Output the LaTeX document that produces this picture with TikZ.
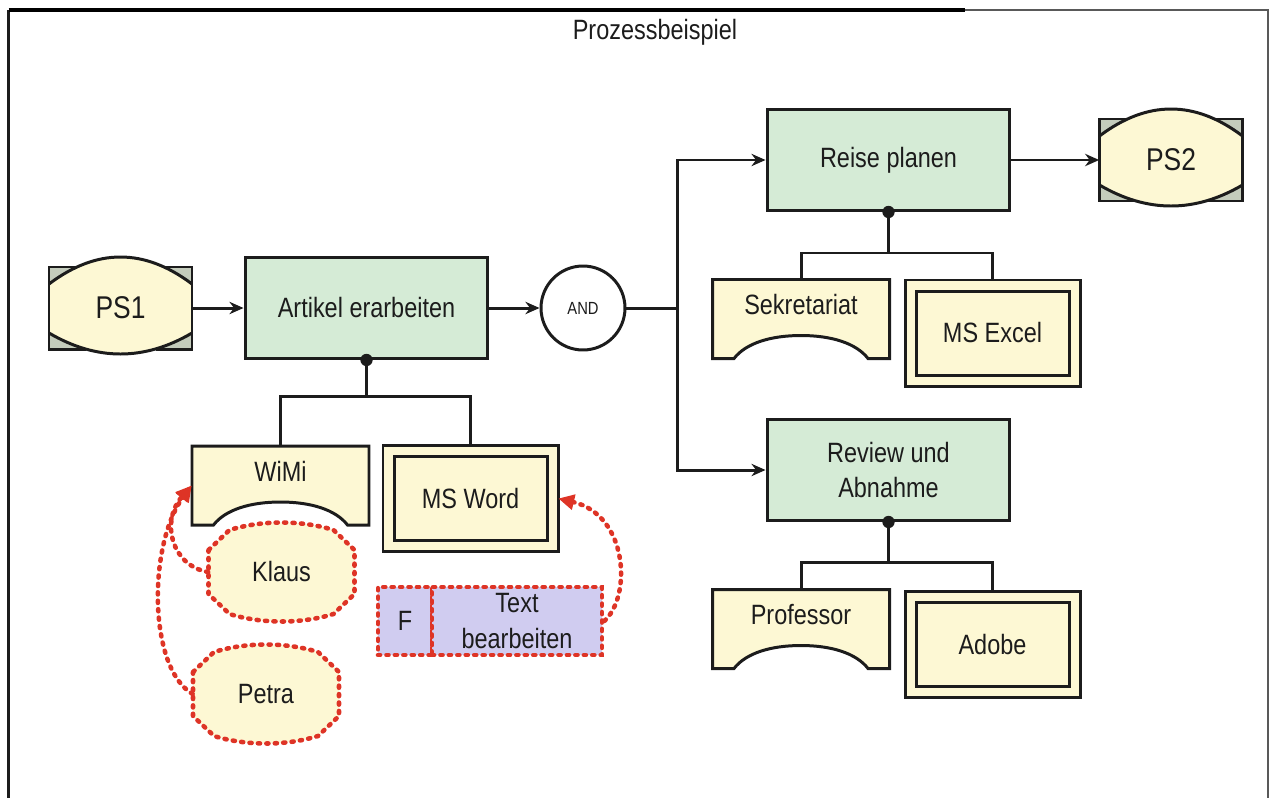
\documentclass[tikz,border=0pt]{standalone}
\usepackage{fontspec}
\setmainfont{Liberation Sans}[FakeStretch=0.84]
\usetikzlibrary{arrows.meta}

\definecolor{cream}{RGB}{253,248,212}
\definecolor{fngreen}{RGB}{213,235,214}
\definecolor{cornerfill}{RGB}{196,204,188}
\definecolor{lav}{RGB}{208,204,240}
\definecolor{dotred}{RGB}{222,52,38}
\definecolor{ink}{RGB}{28,28,28}

\tikzset{
  line/.style={draw=ink, line width=1.7pt},
  flow/.style={draw=ink, line width=1.7pt, -{Stealth[length=8pt,width=7pt]}},
  lbl/.style={font=\fontsize{15.9pt}{20.4pt}\selectfont, text=ink, align=center, inner sep=0pt},
  fnbox/.style={lbl, draw=ink, line width=1.7pt, fill=fngreen,
    minimum width=4.86cm, minimum height=2.02cm},
  dotline/.style={draw=dotred, line width=2.6pt, dash pattern=on 1.2pt off 3.6pt, line cap=round},
  redarrow/.style={dotline, -{Triangle[length=9pt,width=8.5pt,fill=dotred]}},
  fbox/.style={lbl, dotline, fill=lav, minimum height=1.36cm},
  jdot/.style={fill=ink},
  % start / end event: curved top and bottom over a framed rectangle
  pstrig/.pic={
    \fill[cornerfill] (-71.5,-41) rectangle (71.5,41);
    \fill[cream] (-71.5,-24) .. controls (-23.8,-60) and (23.8,-60) .. (71.5,-24) -- (71.5,25)
      .. controls (23.8,53) and (-23.8,53) .. (-71.5,25) -- cycle;
    \draw[line] (-71.5,-24) .. controls (-23.8,-60) and (23.8,-60) .. (71.5,-24);
    \draw[line] (-71.5,25) .. controls (-23.8,53) and (23.8,53) .. (71.5,25);
    \draw[line] (-43.6,-41) -- (-71.5,-41) -- (-71.5,41) -- (-35,41);
    \draw[line] (43.6,-41) -- (71.5,-41) -- (71.5,41) -- (35,41);
    \node[lbl, font=\fontsize{17.9pt}{20pt}\selectfont,
      minimum width=2.86cm, minimum height=1.64cm] (-box) at (0,0) {#1};
  },
  % organisational unit
  orgunit/.pic={
    \filldraw[line, fill=cream] (-88.5,-39.5) -- (88.5,-39.5) -- (88.5,39.5) -- (67,39.5)
      .. controls (55,24) and (30,16.5) .. (0,16.5)
      .. controls (-30,16.5) and (-55,24) .. (-67,39.5) -- (-88.5,39.5) -- cycle;
    \node[minimum width=3.54cm, minimum height=1.58cm, inner sep=0pt] (-box) at (0,0) {};
    \node[lbl] (-t) at (0,-14) {#1};
  },
  % application system
  appsys/.pic={
    \filldraw[line, fill=cream] (-87.5,-53) rectangle (87.5,53);
    \draw[line] (-76.5,-42) rectangle (76.5,42);
    \node[lbl, minimum width=3.5cm, minimum height=2.12cm] (-box) at (0,0) {#1};
  },
  % person
  person/.pic={
    \filldraw[dotline, fill=cream] (-73,-22) -- (-52,-42) .. controls (-20,-52) and (20,-52) .. (52,-42)
      -- (73,-22) -- (73,22) -- (52,42) .. controls (20,52) and (-20,52) .. (-52,42)
      -- (-73,22) -- cycle;
    \node[lbl, minimum width=2.92cm, minimum height=2cm] (-box) at (0,0) {#1};
  },
}

\begin{document}
\begin{tikzpicture}[x=0.02cm, y=-0.02cm]
\useasboundingbox (0,0) rectangle (1270,798);

% frame
\draw[line width=2pt, ink] (8.5,10) -- (8.5,798);
\draw[line width=2.3pt, black] (8.5,10) -- (965,10);
\draw[line width=1.2pt, gray!70!black] (965,10) -- (1268,10) -- (1268,798);

\node[lbl] (title) at (655,32) {Prozessbeispiel};

% main flow
\pic (ps1) at (120.5,308) {pstrig=PS1};
\node[fnbox] (art) at (366.5,308) {Artikel erarbeiten};
\node[circle, draw=ink, line width=1.7pt, fill=white, minimum size=1.68cm, inner sep=0pt,
  font=\fontsize{10pt}{12pt}\selectfont, text=ink] (and) at (583,308) {AND};
\coordinate (split) at (677,308);
\node[fnbox] (reise) at (888.5,160) {Reise planen};
\node[fnbox] (review) at (888.5,470) {Review und\\Abnahme};
\pic (ps2) at (1171,160) {pstrig=PS2};

\draw[flow] (ps1-box.east) -- (art.west);
\draw[flow] (art.east) -- (and.west);
\draw[line] (and.east) -- (split);
\draw[flow] (split) |- (reise.west);
\draw[flow] (split) |- (review.west);
\draw[flow] (reise.east) -- (ps2-box.west);

% resources of "Artikel erarbeiten"
\pic (wimi) at (280.5,485.5) {orgunit=WiMi};
\pic (word) at (470.5,498.5) {appsys=MS Word};
\draw[line] (art.south) -- (art.south |- 0,396);
\draw[line] (wimi-box.north) |- (word-box.north |- 0,396) -- (word-box.north);
\fill[jdot] (art.south) circle (3.5pt);

% resources of "Reise planen"
\pic (sek) at (801,319) {orgunit=Sekretariat};
\pic (excel) at (992.5,333) {appsys=MS Excel};
\draw[line] (reise.south) -- (reise.south |- 0,253);
\draw[line] (sek-box.north) |- (excel-box.north |- 0,253) -- (excel-box.north);
\fill[jdot] (reise.south) circle (3.5pt);

% resources of "Review und Abnahme"
\pic (prof) at (801,629) {orgunit=Professor};
\pic (adobe) at (992.5,644.5) {appsys=Adobe};
\draw[line] (review.south) -- (review.south |- 0,562);
\draw[line] (prof-box.north) |- (adobe-box.north |- 0,562) -- (adobe-box.north);
\fill[jdot] (review.south) circle (3.5pt);

% persons and function
\pic (klaus) at (281.5,572) {person=Klaus};
\pic (petra) at (266,694) {person=Petra};
\node[fbox, minimum width=1.08cm] (fbox) at (405,621) {F};
\node[fbox, minimum width=3.4cm] (tbox) at (517,621) {Text\\bearbeiten};

\draw[redarrow] (klaus-box.west) .. controls (172,566) and (160,522) .. (wimi-box.west);
\draw[redarrow] (petra-box.west) .. controls (148,668) and (148,545) .. (wimi-box.west);
\draw[redarrow] (tbox.east) .. controls (632,596) and (628,515) .. (word-box.east);
\end{tikzpicture}
\end{document}
